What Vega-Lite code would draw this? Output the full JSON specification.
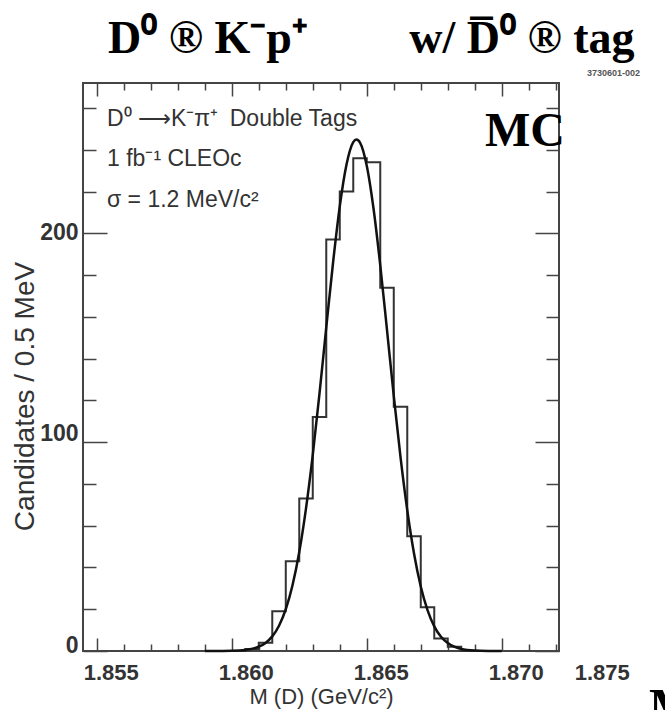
{
  "$schema": "https://vega.github.io/schema/vega-lite/v6.json",
  "width": 476,
  "height": 568,
  "autosize": {"type": "none"},
  "padding": {"left": 83, "top": 83, "right": 106, "bottom": 59},
  "background": "white",
  "config": {
    "view": {"stroke": "#444", "strokeWidth": 2},
    "axis": {"grid": false, "tickColor": "#444", "tickWidth": 1.5}
  },
  "title": {
    "text": "D⁰ ® K⁻p⁺\u2003\u2003\u2009w/ D̅⁰ ® tag",
    "font": "Liberation Serif",
    "fontSize": 46,
    "fontWeight": "bold",
    "color": "black",
    "anchor": "start",
    "frame": "group",
    "dx": 25,
    "dy": 58,
    "offset": 28,
    "baseline": "alphabetic"
  },
  "datasets": {
    "hist": [
      {"m": 1.8600, "n": 0},
      {"m": 1.8605, "n": 1},
      {"m": 1.8610, "n": 4},
      {"m": 1.8615, "n": 19},
      {"m": 1.8620, "n": 43},
      {"m": 1.8625, "n": 73},
      {"m": 1.8630, "n": 112},
      {"m": 1.8635, "n": 197},
      {"m": 1.8640, "n": 220},
      {"m": 1.8645, "n": 236},
      {"m": 1.8650, "n": 234},
      {"m": 1.8655, "n": 174},
      {"m": 1.8660, "n": 117},
      {"m": 1.8665, "n": 55},
      {"m": 1.8670, "n": 21},
      {"m": 1.8675, "n": 6},
      {"m": 1.8680, "n": 2},
      {"m": 1.8685, "n": 0},
      {"m": 1.8690, "n": 0}
    ],
    "fit": [
      {"m": 1.8590, "f": 0.0},
      {"m": 1.8595, "f": 0.02},
      {"m": 1.8600, "f": 0.1},
      {"m": 1.8605, "f": 0.5},
      {"m": 1.8610, "f": 2.05},
      {"m": 1.86125, "f": 3.87},
      {"m": 1.8615, "f": 7.0},
      {"m": 1.86175, "f": 12.1},
      {"m": 1.8620, "f": 20.0},
      {"m": 1.86225, "f": 31.5},
      {"m": 1.8625, "f": 47.4},
      {"m": 1.86275, "f": 68.3},
      {"m": 1.8630, "f": 93.9},
      {"m": 1.86325, "f": 123.4},
      {"m": 1.8635, "f": 155.0},
      {"m": 1.86375, "f": 185.8},
      {"m": 1.8640, "f": 212.9},
      {"m": 1.86425, "f": 233.0},
      {"m": 1.8645, "f": 243.7},
      {"m": 1.86462, "f": 245.0},
      {"m": 1.86475, "f": 243.5},
      {"m": 1.8650, "f": 232.4},
      {"m": 1.86525, "f": 211.9},
      {"m": 1.8655, "f": 184.7},
      {"m": 1.86575, "f": 153.7},
      {"m": 1.8660, "f": 122.2},
      {"m": 1.86625, "f": 92.8},
      {"m": 1.8665, "f": 67.4},
      {"m": 1.86675, "f": 46.7},
      {"m": 1.8670, "f": 30.9},
      {"m": 1.86725, "f": 19.6},
      {"m": 1.8675, "f": 11.8},
      {"m": 1.86775, "f": 6.8},
      {"m": 1.8680, "f": 3.8},
      {"m": 1.8685, "f": 1.0},
      {"m": 1.8690, "f": 0.22},
      {"m": 1.8695, "f": 0.04},
      {"m": 1.8700, "f": 0.0}
    ],
    "info": [
      {"label": "D⁰ ⟶K⁻π⁺\u2002Double Tags", "row": 1},
      {"label": "1 fb⁻¹ CLEOc", "row": 2},
      {"label": "σ = 1.2 MeV/c²", "row": 3}
    ]
  },
  "resolve": {"axis": {"x": "independent", "y": "independent"}},
  "layer": [
    {
      "data": {"name": "hist"},
      "mark": {"type": "line", "interpolate": "step-after", "color": "#333", "strokeWidth": 2},
      "encoding": {
        "x": {
          "field": "m", "type": "quantitative",
          "scale": {"domain": [1.85449, 1.87212], "nice": false, "zero": false},
          "axis": {
            "orient": "bottom",
            "values": [1.855, 1.86, 1.865, 1.87, 1.872],
            "ticks": false, "domain": false,
            "labelExpr": "datum.value > 1.871 ? '1.875' : format(datum.value, '.3f')",
            "labelOffset": {"condition": {"test": "datum.value > 1.871", "value": 46}, "value": 14},
            "labelPadding": 11,
            "labelFont": "Liberation Sans", "labelFontSize": 22, "labelFontWeight": "bold", "labelColor": "#333",
            "labelFlush": false, "labelOverlap": false, "labelBound": false,
            "title": "M (D) (GeV/c²)",
            "titleFont": "Liberation Sans", "titleFontSize": 22, "titleFontWeight": "normal", "titleColor": "#333",
            "titleBaseline": "middle", "titleY": 45
          }
        },
        "y": {
          "field": "n", "type": "quantitative",
          "scale": {"domain": [0, 272], "nice": false, "zero": true},
          "axis": {
            "orient": "left",
            "values": [0, 100, 200],
            "ticks": false, "domain": false,
            "labelPadding": 5,
            "labelFont": "Liberation Sans", "labelFontSize": 23, "labelFontWeight": "bold", "labelColor": "#333",
            "labelOffset": {"condition": [{"test": "datum.value == 100", "value": -9}, {"test": "datum.value == 0", "value": -6}], "value": -1},
            "labelFlush": false, "labelOverlap": false,
            "title": "Candidates / 0.5 MeV",
            "titleFont": "Liberation Sans", "titleFontSize": 28, "titleFontWeight": "normal", "titleColor": "#333",
            "titleAngle": -90, "titleBaseline": "middle", "titleAlign": "center",
            "titleX": -58, "titleY": 313
          }
        }
      }
    },
    {
      "data": {"name": "fit"},
      "mark": {"type": "line", "interpolate": "monotone", "color": "#111", "strokeWidth": 2.5},
      "encoding": {
        "x": {
          "field": "m", "type": "quantitative",
          "scale": {"domain": [1.85449, 1.87212], "nice": false, "zero": false},
          "axis": {"orient": "top", "values": [1.855, 1.86, 1.865, 1.87], "labels": false, "domain": false, "tickSize": -13, "title": null}
        },
        "y": {
          "field": "f", "type": "quantitative",
          "scale": {"domain": [0, 272], "nice": false, "zero": true},
          "axis": {"orient": "right", "values": [0, 100, 200], "labels": false, "domain": false, "tickSize": -24, "title": null}
        }
      }
    },
    {
      "data": {"name": "hist"},
      "mark": {"type": "point", "opacity": 0},
      "encoding": {
        "x": {
          "field": "m", "type": "quantitative",
          "scale": {"domain": [1.85449, 1.87212], "nice": false, "zero": false},
          "axis": {"orient": "bottom", "values": [1.855, 1.86, 1.865, 1.87], "labels": false, "domain": false, "tickSize": -13, "title": null}
        },
        "y": {
          "field": "n", "type": "quantitative",
          "scale": {"domain": [0, 272], "nice": false, "zero": true},
          "axis": {"orient": "left", "values": [0, 100, 200], "labels": false, "domain": false, "tickSize": -24, "title": null}
        }
      }
    },
    {
      "data": {"name": "hist"},
      "mark": {"type": "point", "opacity": 0},
      "encoding": {
        "x": {
          "field": "m", "type": "quantitative",
          "scale": {"domain": [1.85449, 1.87212], "nice": false, "zero": false},
          "axis": {"orient": "bottom", "values": [1.856, 1.857, 1.858, 1.859, 1.861, 1.862, 1.863, 1.864, 1.866, 1.867, 1.868, 1.869, 1.871, 1.872], "labels": false, "domain": false, "tickSize": -7, "title": null}
        },
        "y": {
          "field": "n", "type": "quantitative",
          "scale": {"domain": [0, 272], "nice": false, "zero": true},
          "axis": {"orient": "left", "values": [20, 40, 60, 80, 120, 140, 160, 180, 220, 240, 260], "labels": false, "domain": false, "tickSize": -13, "title": null}
        }
      }
    },
    {
      "data": {"name": "hist"},
      "mark": {"type": "point", "opacity": 0},
      "encoding": {
        "x": {
          "field": "m", "type": "quantitative",
          "scale": {"domain": [1.85449, 1.87212], "nice": false, "zero": false},
          "axis": {"orient": "top", "values": [1.856, 1.857, 1.858, 1.859, 1.861, 1.862, 1.863, 1.864, 1.866, 1.867, 1.868, 1.869, 1.871, 1.872], "labels": false, "domain": false, "tickSize": -7, "title": null}
        },
        "y": {
          "field": "n", "type": "quantitative",
          "scale": {"domain": [0, 272], "nice": false, "zero": true},
          "axis": {"orient": "right", "values": [20, 40, 60, 80, 120, 140, 160, 180, 220, 240, 260], "labels": false, "domain": false, "tickSize": -13, "title": null}
        }
      }
    },
    {
      "data": {"name": "info"},
      "mark": {"type": "text", "font": "Liberation Sans", "fontSize": 23, "align": "left", "baseline": "middle", "color": "#333"},
      "encoding": {
        "text": {"field": "label"},
        "x": {"datum": 1.85538, "type": "quantitative", "scale": {"domain": [1.85449, 1.87212], "nice": false, "zero": false}, "axis": null},
        "yOffset": {"field": "row", "type": "quantitative", "scale": {"domain": [1, 3], "range": [0, 81]}, "legend": null},
        "y": {"datum": 255, "type": "quantitative", "scale": {"domain": [0, 272], "nice": false, "zero": true}, "axis": null}
      }
    },
    {
      "data": {"values": [{"label": "MC"}]},
      "mark": {"type": "text", "font": "Liberation Serif", "fontSize": 48, "fontWeight": "bold", "align": "right", "baseline": "alphabetic", "color": "black", "dx": 6},
      "encoding": {
        "text": {"field": "label"},
        "x": {"datum": 1.87212, "type": "quantitative", "scale": {"domain": [1.85449, 1.87212], "nice": false, "zero": false}, "axis": null},
        "y": {"datum": 242, "type": "quantitative", "scale": {"domain": [0, 272], "nice": false, "zero": true}, "axis": null}
      }
    },
    {
      "data": {"values": [{"label": "3730601-002"}]},
      "mark": {"type": "text", "font": "Liberation Sans", "fontSize": 9, "fontWeight": "bold", "align": "right", "baseline": "alphabetic", "color": "#555", "dx": 81, "dy": -7},
      "encoding": {
        "text": {"field": "label"},
        "x": {"datum": 1.87212, "type": "quantitative", "scale": {"domain": [1.85449, 1.87212], "nice": false, "zero": false}, "axis": null},
        "y": {"datum": 272, "type": "quantitative", "scale": {"domain": [0, 272], "nice": false, "zero": true}, "axis": null}
      }
    },
    {
      "data": {"values": [{"label": "M"}]},
      "mark": {"type": "text", "font": "Liberation Serif", "fontSize": 50, "fontWeight": "bold", "align": "left", "baseline": "alphabetic", "color": "black", "dx": 90, "dy": 72},
      "encoding": {
        "text": {"field": "label"},
        "x": {"datum": 1.87212, "type": "quantitative", "scale": {"domain": [1.85449, 1.87212], "nice": false, "zero": false}, "axis": null},
        "y": {"datum": 0, "type": "quantitative", "scale": {"domain": [0, 272], "nice": false, "zero": true}, "axis": null}
      }
    }
  ]
}
